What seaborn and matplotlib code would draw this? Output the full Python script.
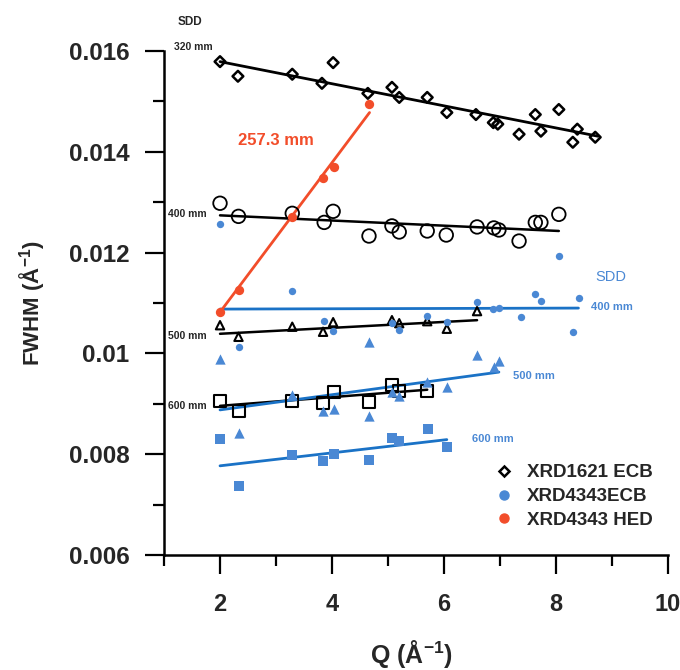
import matplotlib
matplotlib.use("Agg")
import matplotlib.pyplot as plt
from matplotlib.lines import Line2D
from matplotlib.ticker import MultipleLocator
import pandas as pd
import seaborn as sns

# XRD1621 ECB, SDD 320 mm (open diamonds)
q_320 = [2.0, 2.32, 3.29, 3.82, 4.02, 4.64, 5.07, 5.20, 5.70, 6.05,
         6.57, 6.88, 6.96, 7.34, 7.63, 7.73, 8.05, 8.30, 8.38, 8.70]
fwhm_320 = [0.01579, 0.01550, 0.01554, 0.01536, 0.01577, 0.01516, 0.01528, 0.01508, 0.01508, 0.01478,
            0.01474, 0.01458, 0.01455, 0.01435, 0.01474, 0.01441, 0.01484, 0.01419, 0.01445, 0.01429]
fit_320_q = [2.0, 8.75]
fit_320_v = [0.01579, 0.01431]

# XRD1621 ECB, SDD 400 mm (open circles)
q_b400 = [2.0, 2.33, 3.29, 3.86, 4.02, 4.66, 5.07, 5.20, 5.70, 6.04,
          6.59, 6.89, 6.98, 7.34, 7.63, 7.73, 8.05]
fwhm_b400 = [0.01298, 0.01272, 0.01278, 0.01260, 0.01282, 0.01233, 0.01253, 0.01241, 0.01243, 0.01235,
             0.01251, 0.01249, 0.01245, 0.01223, 0.01260, 0.01260, 0.01276]
fit_b400_q = [2.0, 8.05]
fit_b400_v = [0.01274, 0.01243]

# XRD4343 HED, SDD 257.3 mm (red)
q_hed = [2.0, 2.34, 3.29, 3.84, 4.04, 4.66]
fwhm_hed = [0.01082, 0.01126, 0.01270, 0.01348, 0.01369, 0.01494]
fit_hed_q = [2.0, 4.67]
fit_hed_v = [0.01082, 0.01478]

# XRD4343 ECB, SDD 400 mm (blue circles)
q_e400 = [2.0, 2.34, 3.29, 3.86, 4.02, 5.07, 5.20, 5.70, 6.05, 6.59,
          6.88, 6.98, 7.37, 7.63, 7.73, 8.05, 8.30, 8.41]
fwhm_e400 = [0.01257, 0.01013, 0.01124, 0.01064, 0.01045, 0.01060, 0.01047, 0.01074, 0.01062, 0.01102,
             0.01088, 0.01090, 0.01072, 0.01118, 0.01104, 0.01193, 0.01043, 0.01110]
fit_e400_q = [2.0, 8.4]
fit_e400_v = [0.01088, 0.01090]

# XRD1621 ECB, SDD 500 mm (open triangles)
q_b500 = [2.0, 2.33, 3.29, 3.84, 4.02, 5.07, 5.20, 5.70, 6.05, 6.59]
fwhm_b500 = [0.01056, 0.01033, 0.01053, 0.01043, 0.01062, 0.01066, 0.01060, 0.01064, 0.01049, 0.01084]
fit_b500_q = [2.0, 6.59]
fit_b500_v = [0.01039, 0.01066]

# XRD4343 ECB, SDD 500 mm (blue triangles)
q_e500 = [2.0, 2.34, 3.29, 3.84, 4.04, 4.66, 4.66, 5.07, 5.20, 5.70, 6.05, 6.59, 6.89, 6.98]
fwhm_e500 = [0.00989, 0.00843, 0.00918, 0.00886, 0.00890, 0.01023, 0.00876, 0.00924, 0.00916,
             0.00944, 0.00934, 0.00997, 0.00973, 0.00985]
fit_e500_q = [2.0, 6.98]
fit_e500_v = [0.00888, 0.00963]

# XRD1621 ECB, SDD 600 mm (open squares)
q_b600 = [2.0, 2.34, 3.29, 3.84, 4.04, 4.66, 5.07, 5.20, 5.70]
fwhm_b600 = [0.00906, 0.00886, 0.00906, 0.00902, 0.00924, 0.00904, 0.00938, 0.00926, 0.00926]
fit_b600_q = [2.0, 5.70]
fit_b600_v = [0.00896, 0.00928]

# XRD4343 ECB, SDD 600 mm (blue squares)
q_e600 = [2.0, 2.34, 3.29, 3.84, 4.04, 4.66, 5.07, 5.20, 5.71, 6.05]
fwhm_e600 = [0.00831, 0.00736, 0.00799, 0.00787, 0.00801, 0.00789, 0.00833, 0.00827, 0.00851, 0.00815]
fit_e600_q = [2.0, 6.05]
fit_e600_v = [0.00777, 0.00829]

legend_labels = ["XRD1621 ECB", "XRD4343ECB", "XRD4343 HED"]

BLACK = "black"
BLUE_PT = "#4a88d4"
BLUE_LN = "#1a72c6"
RED = "#f24d2a"

sns.set_style("ticks")
plt.rcParams["font.family"] = ["Liberation Sans", "DejaVu Sans"]
plt.rcParams["mathtext.fontset"] = "custom"
plt.rcParams["mathtext.rm"] = "Liberation Sans"
plt.rcParams["mathtext.bf"] = "Liberation Sans:bold"

fig = plt.figure(figsize=(6.8, 6.7), dpi=100)
ax = fig.add_axes([0.2412, 0.1716, 0.7412, 0.7522])

# fit lines
fits = [
    (fit_320_q, fit_320_v, BLACK, 2.0),
    (fit_b400_q, fit_b400_v, BLACK, 1.8),
    (fit_b500_q, fit_b500_v, BLACK, 1.8),
    (fit_b600_q, fit_b600_v, BLACK, 1.8),
    (fit_e400_q, fit_e400_v, BLUE_LN, 2.0),
    (fit_e500_q, fit_e500_v, BLUE_LN, 2.0),
    (fit_e600_q, fit_e600_v, BLUE_LN, 2.0),
    (fit_hed_q, fit_hed_v, RED, 2.0),
]
for fq, fv, c, lw in fits:
    sns.lineplot(x=fq, y=fv, color=c, linewidth=lw, estimator=None, ax=ax, zorder=2)

# open black markers
open_series = [
    (q_320, fwhm_320, "D", 30, 1.8),
    (q_b400, fwhm_b400, "o", 95, 1.3),
    (q_b500, fwhm_b500, "^", 36, 1.5),
    (q_b600, fwhm_b600, "s", 75, 1.5),
]
for q, v, m, s, lw in open_series:
    sns.scatterplot(x=q, y=v, marker=m, s=s, facecolors="none", edgecolor=BLACK,
                    linewidth=lw, ax=ax, zorder=3)

# filled coloured markers
filled_series = [
    (q_e400, fwhm_e400, "o", 28, BLUE_PT),
    (q_e500, fwhm_e500, "^", 55, BLUE_PT),
    (q_e600, fwhm_e600, "s", 50, BLUE_PT),
    (q_hed, fwhm_hed, "o", 45, RED),
]
for q, v, m, s, c in filled_series:
    sns.scatterplot(x=q, y=v, marker=m, s=s, color=c, linewidth=0, ax=ax, zorder=4)

ax.set_xlim(1, 10)
ax.set_ylim(0.006, 0.016)
ax.xaxis.set_major_locator(MultipleLocator(2))
ax.xaxis.set_minor_locator(MultipleLocator(1))
ax.yaxis.set_major_locator(MultipleLocator(0.002))
ax.yaxis.set_minor_locator(MultipleLocator(0.001))
ax.set_yticks([0.006, 0.008, 0.01, 0.012, 0.014, 0.016])
ax.set_yticklabels(["0.006", "0.008", "0.01", "0.012", "0.014", "0.016"])
ax.tick_params(axis="both", which="major", direction="out", length=14, width=1.6,
               labelsize=17.5, color=BLACK)
ax.tick_params(axis="x", which="major", labelsize=17)
ax.tick_params(axis="both", which="minor", direction="out", length=8, width=1.6, color=BLACK)
ax.tick_params(axis="x", which="major", pad=13)
ax.tick_params(axis="y", which="major", pad=11)
for lab in ax.get_xticklabels() + ax.get_yticklabels():
    lab.set_fontweight("bold")

sns.despine(ax=ax)
for side in ("left", "bottom"):
    ax.spines[side].set_linewidth(1.8)
    ax.spines[side].set_color(BLACK)

ax.set_xlabel(r"Q (Å$^{\mathbf{-1}}$)", fontsize=18, fontweight="bold")
ax.set_ylabel(r"FWHM (Å$^{\mathbf{-1}}$)", fontsize=16, fontweight="bold")
ax.xaxis.set_label_coords(0.49, -0.164)
ax.yaxis.set_label_coords(-0.232, 0.5)

# SDD annotations
ax.text(1.25, 0.01658, "SDD", fontsize=8.5, fontweight="bold", va="center", ha="left", clip_on=False)
ax.text(1.18, 0.01608, "320 mm", fontsize=7.5, fontweight="bold", va="center", ha="left", clip_on=False)
ax.text(1.07, 0.01277, "400 mm", fontsize=7.5, fontweight="bold", va="center", ha="left")
ax.text(1.07, 0.01035, "500 mm", fontsize=7.5, fontweight="bold", va="center", ha="left")
ax.text(1.07, 0.00896, "600 mm", fontsize=7.5, fontweight="bold", va="center", ha="left")
ax.text(2.32, 0.01423, "257.3 mm", fontsize=12, fontweight="bold", color=RED, va="center", ha="left")
ax.text(8.70, 0.01152, "SDD", fontsize=10.5, color=BLUE_PT, va="center", ha="left")
ax.text(8.63, 0.01092, "400 mm", fontsize=8, fontweight="bold", color=BLUE_PT, va="center", ha="left")
ax.text(7.23, 0.00955, "500 mm", fontsize=8, fontweight="bold", color=BLUE_PT, va="center", ha="left")
ax.text(6.50, 0.00830, "600 mm", fontsize=8, fontweight="bold", color=BLUE_PT, va="center", ha="left")

handles = [
    Line2D([], [], linestyle="none", marker="D", markersize=5.5, markerfacecolor="none",
           markeredgecolor=BLACK, markeredgewidth=1.8),
    Line2D([], [], linestyle="none", marker="o", markersize=6.5, color=BLUE_PT),
    Line2D([], [], linestyle="none", marker="o", markersize=6.5, color=RED),
]
leg = ax.legend(handles, legend_labels, loc="upper left", bbox_to_anchor=(0.645, 0.195),
                frameon=False, handlelength=0.8, handletextpad=0.8, labelspacing=0.35,
                borderaxespad=0, prop={"size": 13.5, "weight": "bold"})

fig.savefig("out.png", dpi=100)
